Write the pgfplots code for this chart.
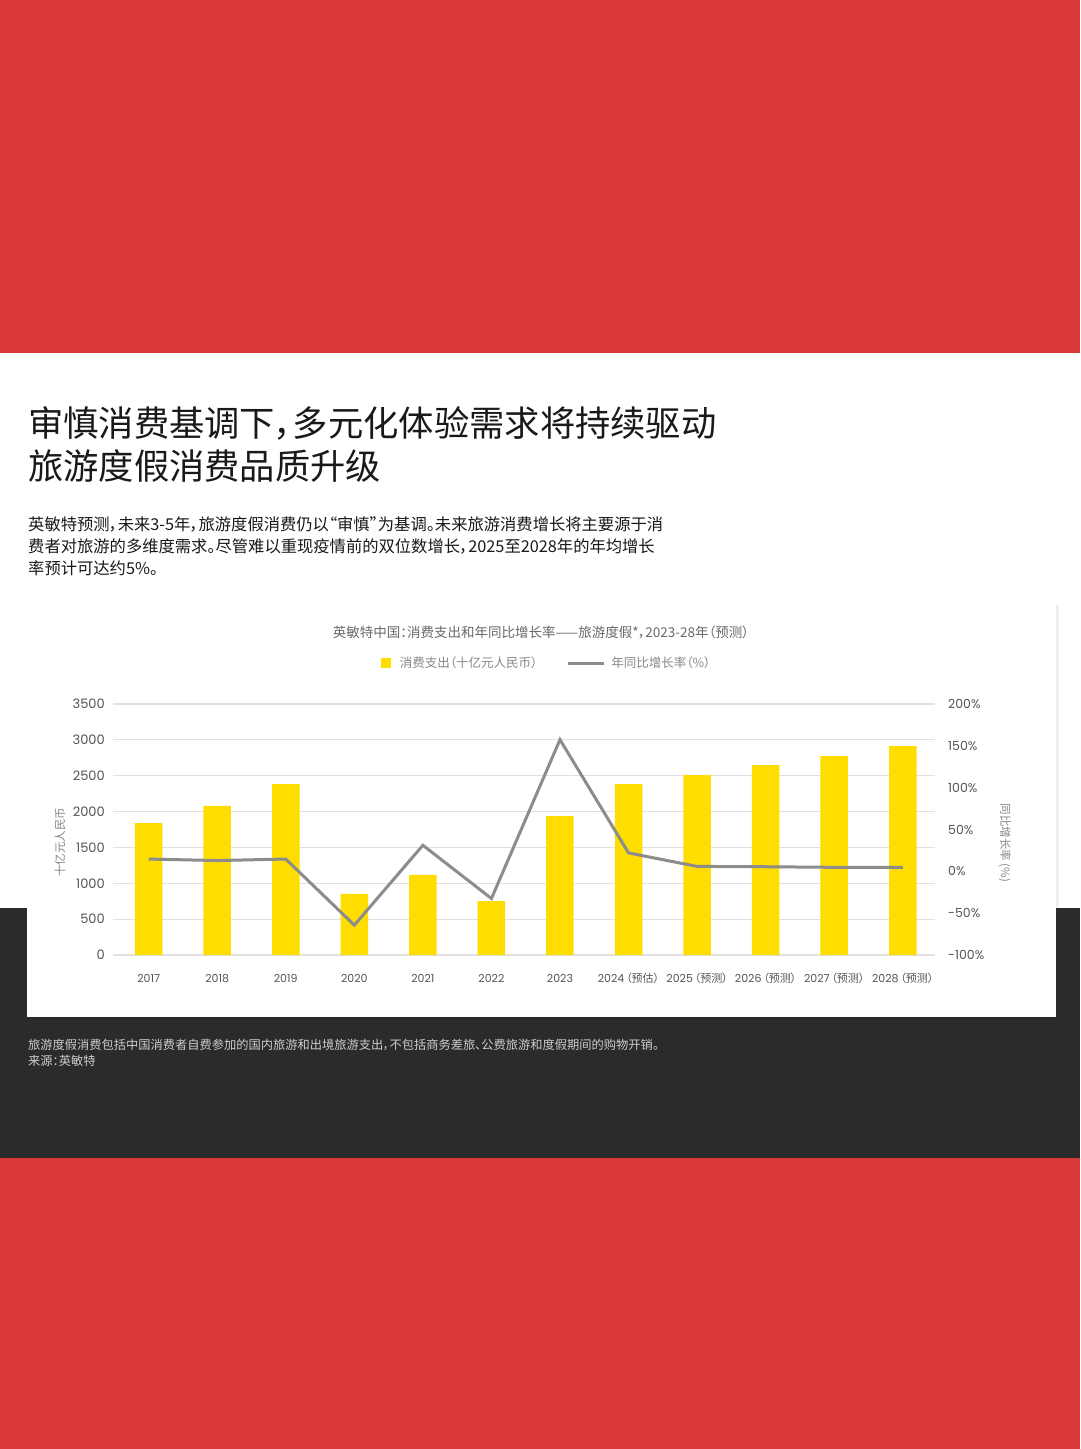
\documentclass[border=0pt]{standalone}
\usepackage{pgfplots}
\usepackage{pgfplotstable}
\pgfplotsset{compat=1.18}
\usepackage{fontspec}
\setmainfont{Noto Sans CJK SC}[RawFeature={+palt}]
\newfontfamily\numfont{Poppins}

\definecolor{bgred}{RGB}{217,56,56}
\definecolor{bgdark}{RGB}{43,43,43}
\definecolor{barY}{RGB}{255,221,0}
\definecolor{lineG}{RGB}{140,140,140}
\definecolor{gridG}{RGB}{224,224,224}
\definecolor{tickG}{RGB}{85,85,85}
\definecolor{titleG}{RGB}{105,105,105}
\definecolor{labG}{RGB}{135,135,135}
\definecolor{footG}{RGB}{205,205,205}
\definecolor{bodyK}{RGB}{25,25,25}

% spending (bn RMB) and yoy growth (%)
\pgfplotstableread{
x spend growth
0  1840  14.7
1  2078  12.9
2  2384  14.7
3  851  -64.3
4  1116  31.2
5  753  -32.5
6  1938  157.4
7  2384  22.0
8  2510  5.9
9  2649  5.5
10 2775  4.8
11 2914  4.6
}\datatable

\newcommand\yr[2]{{\numfont #1}\,（#2）}
\newcommand\fs[1]{\fontsize{#1}{#1}\selectfont}

\begin{document}
\begin{tikzpicture}
\useasboundingbox (0pt,0pt) rectangle (1080pt,-1449pt);
% page background
\fill[bgred] (0pt,0pt) rectangle (1080pt,-353pt);
\fill[white] (0pt,-353pt) rectangle (1080pt,-908pt);
\fill[bgdark] (0pt,-908pt) rectangle (1080pt,-1158pt);
\fill[bgred] (0pt,-1158pt) rectangle (1080pt,-1449pt);
% card
\fill[black!6] (1056pt,-605pt) rectangle (1059pt,-908pt);
\fill[white] (27pt,-605pt) rectangle (1056pt,-1017pt);

% heading and intro
\node[anchor=base west, inner sep=0pt, text=bodyK, font=\fs{35.3}] at (28pt,-436pt) {审慎消费基调下，多元化体验需求将持续驱动};
\node[anchor=base west, inner sep=0pt, text=bodyK, font=\fs{35.3}] at (28pt,-479pt) {旅游度假消费品质升级};
\node[anchor=base west, inner sep=0pt, text=bodyK, font=\fs{16.3}] at (28pt,-530pt) {英敏特预测，未来3-5年，旅游度假消费仍以“审慎”为基调。未来旅游消费增长将主要源于消};
\node[anchor=base west, inner sep=0pt, text=bodyK, font=\fs{16.3}] at (28pt,-552pt) {费者对旅游的多维度需求。尽管难以重现疫情前的双位数增长，2025至2028年的年均增长};
\node[anchor=base west, inner sep=0pt, text=bodyK, font=\fs{16.3}] at (28pt,-574pt) {率预计可达约5\%。};

% chart title
\node[anchor=base, inner sep=0pt, text=titleG, font=\fs{13.5}] at (541pt,-637pt) {英敏特中国：消费支出和年同比增长率——旅游度假*，2023-28年（预测）};

% footnote
\node[anchor=base west, inner sep=0pt, text=footG, font=\fs{12.25}] at (28pt,-1049pt) {旅游度假消费包括中国消费者自费参加的国内旅游和出境旅游支出，不包括商务差旅、公费旅游和度假期间的购物开销。};
\node[anchor=base west, inner sep=0pt, text=footG, font=\fs{12.25}] at (28pt,-1065pt) {来源：英敏特};

\begin{axis}[
  at={(113pt,-955pt)}, anchor=south west,
  scale only axis, width=822pt, height=251pt,
  xmin=-0.52, xmax=11.47,
  ymin=0, ymax=3500,
  axis line style={draw=none},
  tick style={draw=none},
  ymajorgrids, grid style={gridG, line width=1.2pt},
  ytick={0,500,...,3500},
  yticklabels={0,500,1000,1500,2000,2500,3000,3500},
  yticklabel style={font=\numfont\fs{13}, text=tickG, inner sep=0pt, anchor=east, xshift=-8pt},
  xtick={0,...,11},
  xticklabels={{\numfont 2017},{\numfont 2018},{\numfont 2019},{\numfont 2020},{\numfont 2021},{\numfont 2022},{\numfont 2023},\yr{2024}{预估},\yr{2025}{预测},\yr{2026}{预测},\yr{2027}{预测},\yr{2028}{预测}},
  xticklabel style={font=\fs{11}, text=tickG, inner sep=0pt, anchor=base, yshift=-27pt},
  ylabel={十亿元人民币},
  ylabel style={at={(axis description cs:-0.0645,0.45)}, anchor=center, font=\fs{11.5}, text=labG},
]
  \addplot[ybar, bar width=27.5pt, fill=barY, draw=none] table[x=x, y=spend] {\datatable};
\end{axis}

\begin{axis}[
  at={(113pt,-955pt)}, anchor=south west,
  scale only axis, width=822pt, height=251pt,
  xmin=-0.52, xmax=11.47,
  ymin=-100, ymax=200,
  axis line style={draw=none},
  tick style={draw=none},
  axis x line=none,
  axis y line*=right,
  ytick={-100,-50,...,200},
  yticklabels={-100\%,-50\%,0\%,50\%,100\%,150\%,200\%},
  yticklabel style={font=\numfont\fs{12.5}, text=tickG, inner sep=0pt, anchor=west, xshift=13pt},
  ylabel={同比增长率 (\%)},
  ylabel style={at={(axis description cs:1.085,0.446)}, anchor=center, rotate=180, font=\fs{11.5}, text=labG},
  legend columns=2,
  legend style={at={(axis description cs:0.5274,1.163)}, anchor=center, draw=none, fill=none,
    font=\fs{12.5}, text=labG, inner sep=0pt,
    /tikz/every even column/.append style={column sep=27pt}},
]
  \addlegendimage{legend image code/.code={\fill[barY] (0pt,-4.5pt) rectangle (9pt,4.5pt); \path (17pt,0pt);}}
  \addlegendentry{消费支出（十亿元人民币）}
  \addplot[lineG, line width=3pt, no markers,
    legend image code/.code={\draw[lineG, line width=3pt] (0pt,0pt) -- (36pt,0pt); \path (40pt,0pt);}]
    table[x=x, y=growth] {\datatable};
  \addlegendentry{年同比增长率（\%）}
\end{axis}
\end{tikzpicture}
\end{document}
